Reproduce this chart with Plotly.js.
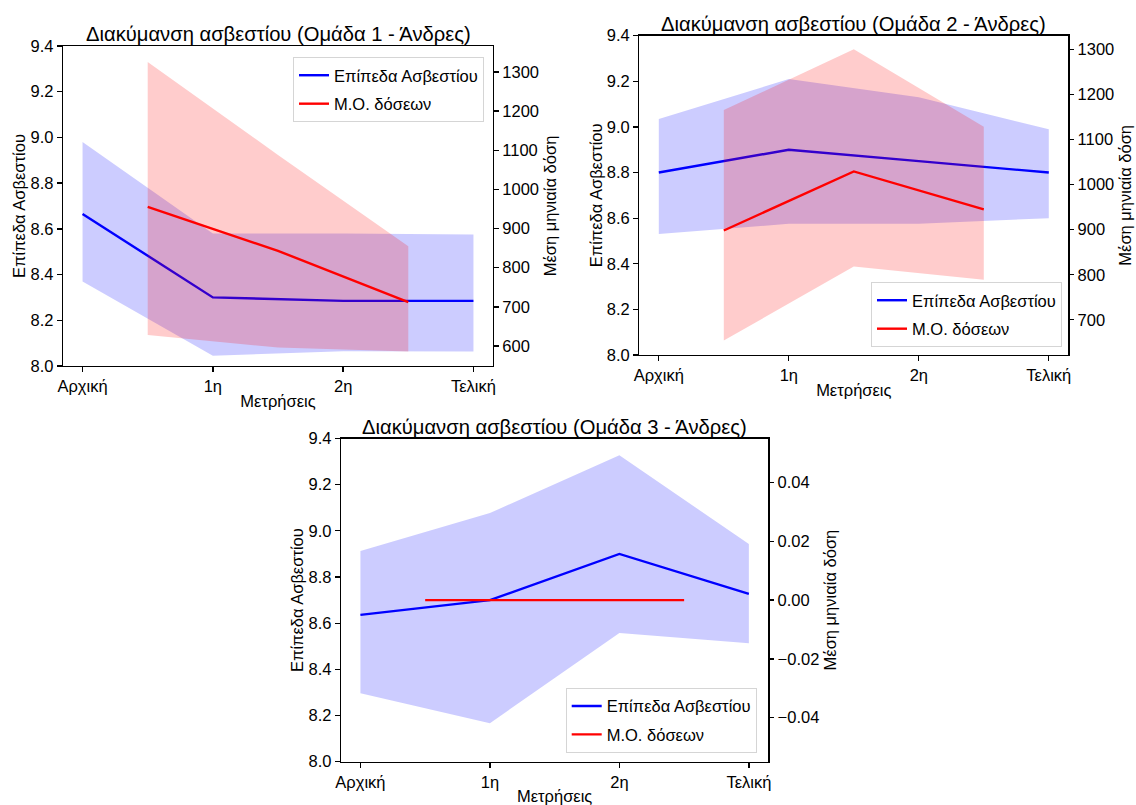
<!DOCTYPE html>
<html>
<head>
<meta charset="utf-8">
<script src="https://cdn.plot.ly/plotly-3.0.1.min.js"></script>
<style>html,body{margin:0;padding:0;background:#fff;}#chart{width:1136px;height:805px;}</style>
</head>
<body>
<div id="chart"></div>
<script>
// ---- data ----
const categories = ['Αρχική', '1η', '2η', 'Τελική'];
const catX = [0, 1, 2, 3];
const doseX = [0.5, 1.5, 2.5];

const titles = ['Διακύμανση ασβεστίου (Ομάδα 1 - Άνδρες)', 'Διακύμανση ασβεστίου (Ομάδα 2 - Άνδρες)', 'Διακύμανση ασβεστίου (Ομάδα 3 - Άνδρες)'];
const xTitle = 'Μετρήσεις';
const yLeftTitle = 'Επίπεδα Ασβεστίου';
const yRightTitle = 'Μέση μηνιαία δόση';
const calciumName = 'Επίπεδα Ασβεστίου';
const doseName = 'Μ.Ο. δόσεων';

// Group 1
const g1Calcium = [8.665, 8.30, 8.285, 8.285];
const g1CalciumUpper = [8.98, 8.58, 8.58, 8.575];
const g1CalciumLower = [8.37, 8.045, 8.065, 8.063];
const g1Dose = [955, 843, 712];
const g1DoseUpper = [1325, 1088, 855];
const g1DoseLower = [628, 596, 586];

// Group 2
const g2Calcium = [8.80, 8.90, 8.85, 8.80];
const g2CalciumUpper = [9.035, 9.21, 9.13, 8.99];
const g2CalciumLower = [8.53, 8.575, 8.575, 8.60];
const g2Dose = [898, 1029, 945];
const g2DoseUpper = [1165, 1300, 1128];
const g2DoseLower = [654, 818, 789];

// Group 3
const g3Calcium = [8.636, 8.70, 8.90, 8.727];
const g3CalciumUpper = [8.913, 9.077, 9.327, 8.943];
const g3CalciumLower = [8.297, 8.167, 8.557, 8.513];
const g3Dose = [0, 0, 0];

// ---- build ----
const W = 1136, H = 805;
const FONT = 'Liberation Sans, Arial, sans-serif';
const BLUE = 'rgb(0,0,255)', RED = 'rgb(255,0,0)';
const BLUE_FILL = 'rgba(0,0,255,0.2)', RED_FILL = 'rgba(255,0,0,0.2)';

function band(x, up, lo, xa, ya, color) {
  return {
    type: 'scatter', mode: 'lines', x: x.concat(x.slice().reverse()),
    y: up.concat(lo.slice().reverse()), fill: 'toself', fillcolor: color,
    line: {width: 0}, hoverinfo: 'skip', showlegend: false, xaxis: xa, yaxis: ya
  };
}
function line(x, y, xa, ya, color, name, leg, grp) {
  return {type: 'scatter', mode: 'lines', x: x, y: y, line: {color: color, width: 2.4},
    name: name, xaxis: xa, yaxis: ya, legend: leg, legendgroup: grp, showlegend: true};
}

const groups = [
  {c: g1Calcium, cu: g1CalciumUpper, cl: g1CalciumLower, d: g1Dose, du: g1DoseUpper, dl: g1DoseLower},
  {c: g2Calcium, cu: g2CalciumUpper, cl: g2CalciumLower, d: g2Dose, du: g2DoseUpper, dl: g2DoseLower},
  {c: g3Calcium, cu: g3CalciumUpper, cl: g3CalciumLower, d: g3Dose, du: null, dl: null}
];
// pixel boxes of axes: [left, right, top, bottom]
const boxes = [[63, 493, 46, 366], [639.3, 1068.3, 35.7, 355], [341, 768.3, 438.5, 761.7]];
const rightRanges = [[549, 1366], [622, 1330], [-0.055, 0.055]];
const rightDticks = [100, 100, 0.02];
const rightFormats = ['d', 'd', '.2f'];

const traces = [];
const layout = {
  width: W, height: H, margin: {l: 0, r: 0, t: 0, b: 0},
  paper_bgcolor: '#fff', plot_bgcolor: '#fff', font: {family: FONT, size: 16.5, color: '#000'},
  annotations: [], showlegend: true
};

groups.forEach((g, i) => {
  const n = i + 1;
  const xa = 'x' + (n === 1 ? '' : n);
  const yaL = 'y' + (2 * n - 1 === 1 ? '' : 2 * n - 1);
  const yaR = 'y' + (2 * n);
  const leg = n === 1 ? 'legend' : 'legend' + n;
  traces.push(band(catX, g.cu, g.cl, xa, yaL, BLUE_FILL));
  traces.push(line(catX, g.c, xa, yaL, BLUE, calciumName, leg, 'c' + n));
  if (g.du) traces.push(band(doseX, g.du, g.dl, xa, yaR, RED_FILL));
  traces.push(line(doseX, g.d, xa, yaR, RED, doseName, leg, 'd' + n));

  const b = boxes[i];
  const xd = [b[0] / W, b[1] / W];
  const yd = [1 - b[3] / H, 1 - b[2] / H];
  const axCommon = {showline: true, linecolor: '#000', linewidth: 1.3, ticks: 'outside', ticklen: 5,
    tickwidth: 1.3, tickcolor: '#000', showgrid: false, zeroline: false, tickfont: {size: 16.5, color: '#000'}};
  layout['xaxis' + (n === 1 ? '' : n)] = Object.assign({}, axCommon, {
    domain: xd, anchor: yaL, range: [-0.15, 3.15], tickvals: catX, ticktext: categories, mirror: true,
    title: {text: xTitle, font: {size: 16.5}, standoff: 1}
  });
  layout['yaxis' + (2 * n - 1 === 1 ? '' : 2 * n - 1)] = Object.assign({}, axCommon, {
    domain: yd, anchor: xa, range: [8.0, 9.4], dtick: 0.2, tick0: 8.0, tickformat: '.1f', mirror: true,
    title: {text: yLeftTitle, font: {size: 16.5}, standoff: 0}
  });
  layout['yaxis' + 2 * n] = Object.assign({}, axCommon, {
    overlaying: yaL, anchor: xa, side: 'right', showline: false,
    range: rightRanges[i], dtick: rightDticks[i], tick0: 0, tickformat: rightFormats[i],
    title: {text: yRightTitle, font: {size: 16.5}, standoff: 6}
  });
  layout.annotations.push({text: titles[i], xref: 'paper', yref: 'paper', x: (b[0] + b[1]) / 2 / W,
    y: 1 - (b[2] + 1) / H, xanchor: 'center', yanchor: 'bottom', showarrow: false, font: {size: 20.2, color: '#000'}});
});

const legCommon = {bgcolor: 'rgba(255,255,255,0.8)', bordercolor: '#d5d5d5', borderwidth: 1,
  font: {size: 16.5, color: '#000'}, tracegroupgap: 4, traceorder: 'grouped', xanchor: 'right'};
layout.legend = Object.assign({}, legCommon, {x: 484 / W, y: 1 - 57 / H, yanchor: 'top'});
layout.legend2 = Object.assign({}, legCommon, {x: 1062 / W, y: 1 - 347 / H, yanchor: 'bottom'});
layout.legend3 = Object.assign({}, legCommon, {x: 756.7 / W, y: 1 - 752.7 / H, yanchor: 'bottom'});

Plotly.newPlot('chart', traces, layout, {displayModeBar: false, staticPlot: true});
</script>
</body>
</html>
